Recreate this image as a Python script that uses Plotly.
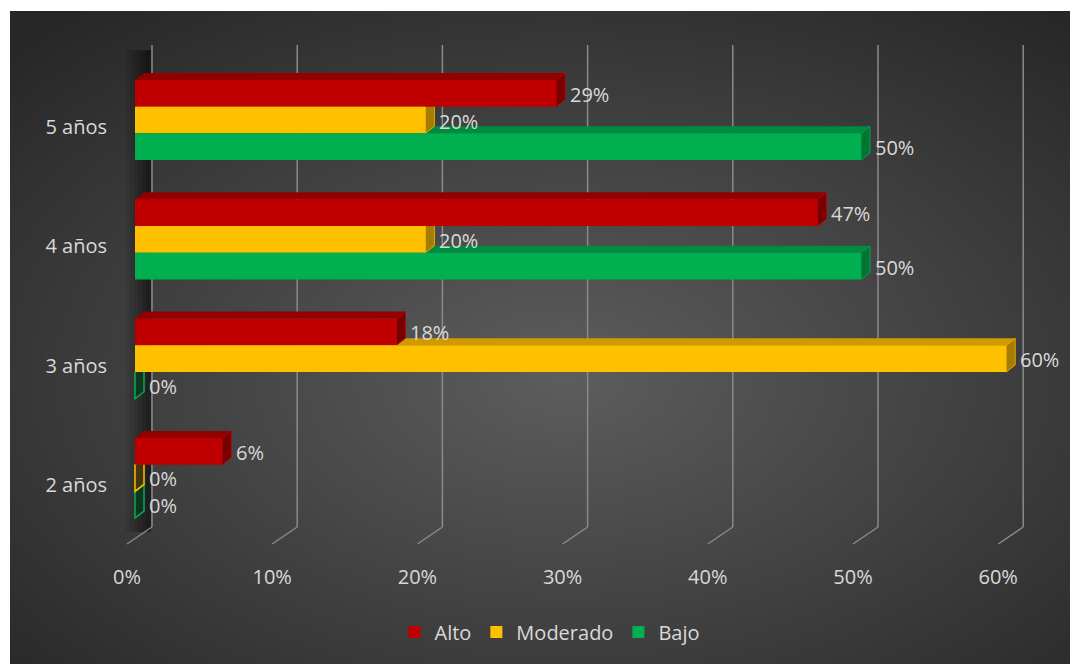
import base64
import plotly.graph_objects as go

# ---------------- data ----------------
categories = ["2 años", "3 años", "4 años", "5 años"]
alto = [6, 18, 47, 29]
moderado = [0, 60, 20, 20]
bajo = [0, 0, 50, 50]
x_ticks = [0, 10, 20, 30, 40, 50, 60]
x_ticklabels = ["0%", "10%", "20%", "30%", "40%", "50%", "60%"]
series_names = ["Alto", "Moderado", "Bajo"]

# ---------------- styling / geometry (screen pixels) ----------------
W, H = 1078, 664
PAGE_OFF = 8                             # default body margin of the page
L, R, T, B = 110, 1060, 30, 545          # plot-area pixel box (screen coords)
PX_PER_UNIT_X = 14.52                    # pixels per 1 %
X0_PX = 135                              # pixel of 0 % (bar front)
PX_PER_CAT = 119.33
CAT_TOP_PX = 120                         # pixel of top category centre

xr = [(L - X0_PX) / PX_PER_UNIT_X, (R - X0_PX) / PX_PER_UNIT_X]
yr = [3 - (B - CAT_TOP_PX) / PX_PER_CAT, 3 + (CAT_TOP_PX - T) / PX_PER_CAT]

def ypaper(py):
    return (B - py) / (B - T)

def xunit(px):
    return (px - X0_PX) / PX_PER_UNIT_X

dx = 9 / PX_PER_UNIT_X      # depth of bars along x
dy = 7 / PX_PER_CAT         # depth of bars along y
back = 17 / PX_PER_UNIT_X   # back-wall offset
front = 8 / PX_PER_UNIT_X   # floor front offset

w = 0.224
offsets = {"Alto": 0.112, "Moderado": -0.112, "Bajo": -0.336}
colors = {"Alto": "#c00000", "Moderado": "#ffc000", "Bajo": "#00b050"}
top_colors = {"Alto": "#920000", "Moderado": "#cf9b00", "Bajo": "#008c40"}
side_colors = {"Alto": "#780000", "Moderado": "#a67c00", "Bajo": "#007335"}
zero_fill = {"Alto": "rgba(192,0,0,0.15)", "Moderado": "rgba(80,62,0,0.6)", "Bajo": "rgba(0,60,25,0.6)"}
values = {"Alto": alto, "Moderado": moderado, "Bajo": bajo}
text_color = "#d9d9d9"
font_family = "Open Sans, Lato, sans-serif"

positions = list(range(len(categories)))

fig = go.Figure()
for name in series_names:
    fig.add_trace(go.Bar(
        name=name, orientation="h", y=positions, x=values[name],
        width=w, offset=offsets[name],
        marker=dict(color=colors[name], line=dict(width=0)),
        hoverinfo="skip",
    ))

shapes = []
# left wall shadow (soft gradient darkening towards the back wall)
for start_px, op in [(126, 0.07), (130, 0.08), (134, 0.09), (138, 0.1), (142, 0.12), (146, 0.14)]:
    shapes.append(dict(type="rect", xref="x", yref="paper", x0=xunit(start_px), x1=xunit(151),
                       y0=ypaper(532), y1=ypaper(50), fillcolor="rgba(0,0,0,%s)" % op,
                       line=dict(width=0), layer="below"))

# back wall gridlines + floor diagonals
for t in x_ticks:
    gc = "#8a8a8a"
    shapes.append(dict(type="line", xref="x", yref="paper", x0=t + back, x1=t + back,
                       y0=ypaper(45), y1=ypaper(527), line=dict(color=gc, width=1.5), layer="below"))
    shapes.append(dict(type="line", xref="x", yref="paper", x0=t + back, x1=t - front,
                       y0=ypaper(527), y1=ypaper(544), line=dict(color=gc, width=1.5), layer="below"))

# 3-D faces (drawn bottom series first)
for name in ["Bajo", "Moderado", "Alto"]:
    for pos, v in zip(positions, values[name]):
        y0 = pos + offsets[name]
        y1 = y0 + w
        if v > 0:
            top = f"M {0},{y1} L {v},{y1} L {v+dx},{y1+dy} L {dx},{y1+dy} Z"
            shapes.append(dict(type="path", xref="x", yref="y", path=top,
                               fillcolor=top_colors[name], line=dict(width=0), layer="between"))
            side = f"M {v},{y0} L {v},{y1} L {v+dx},{y1+dy} L {v+dx},{y0+dy} Z"
            shapes.append(dict(type="path", xref="x", yref="y", path=side,
                               fillcolor=side_colors[name], line=dict(color=colors[name], width=0.8),
                               layer="between"))
        else:
            side = f"M {v},{y0} L {v},{y1} L {v+dx},{y1+dy} L {v+dx},{y0+dy} Z"
            shapes.append(dict(type="path", xref="x", yref="y", path=side,
                               fillcolor=zero_fill[name], line=dict(color=colors[name], width=1.5),
                               layer="between"))

# data labels
annotations = []
for name in series_names:
    for pos, v in zip(positions, values[name]):
        annotations.append(dict(
            x=v, y=pos + offsets[name] + w / 2, xref="x", yref="y",
            text=f"{v}%", showarrow=False, xanchor="left", yanchor="middle",
            xshift=12, yshift=-1, font=dict(color=text_color, size=20, family=font_family),
        ))

# background radial gradient
svg = ('<svg xmlns="http://www.w3.org/2000/svg" width="1068" height="653" viewBox="0 0 1068 653" '
       'preserveAspectRatio="none"><defs><radialGradient id="g" cx="0.52" cy="0.56" r="0.72">'
       '<stop offset="0" stop-color="#5d5d5d"/><stop offset="1" stop-color="#272727"/>'
       '</radialGradient></defs><rect width="1068" height="653" fill="url(#g)"/></svg>')
src = "data:image/svg+xml;base64," + base64.b64encode(svg.encode()).decode()
pw, ph = R - L, B - T
images = [dict(source=src, xref="paper", yref="paper",
               x=(10 - L) / pw, y=ypaper(11), sizex=(W - 10) / pw, sizey=(H - 11) / ph,
               xanchor="left", yanchor="top", sizing="stretch", layer="below")]

fig.update_layout(
    width=W - PAGE_OFF, height=H - PAGE_OFF,
    margin=dict(l=L - PAGE_OFF, r=W - R, t=T - PAGE_OFF, b=H - B, pad=0),
    paper_bgcolor="white", plot_bgcolor="rgba(0,0,0,0)",
    barmode="overlay",
    shapes=shapes, annotations=annotations, images=images,
    font=dict(family=font_family, color=text_color, size=20),
    showlegend=True,
    legend=dict(orientation="h", x=(550 - L) / pw, xanchor="center", y=ypaper(632), yanchor="middle",
                traceorder="normal", font=dict(size=20, color=text_color), bgcolor="rgba(0,0,0,0)"),
    xaxis=dict(range=xr, showgrid=False, zeroline=False, showline=False,
               tickvals=[t - front for t in x_ticks], ticktext=x_ticklabels, ticks="",
               ticklabelstandoff=18, tickfont=dict(size=20, color=text_color), fixedrange=True),
    yaxis=dict(range=yr, showgrid=False, zeroline=False, showline=False,
               tickvals=[p - 7 / PX_PER_CAT for p in positions], ticktext=categories, ticks="",
               ticklabelstandoff=2, tickfont=dict(size=20, color=text_color), fixedrange=True),
)

fig.write_html("out.html")
